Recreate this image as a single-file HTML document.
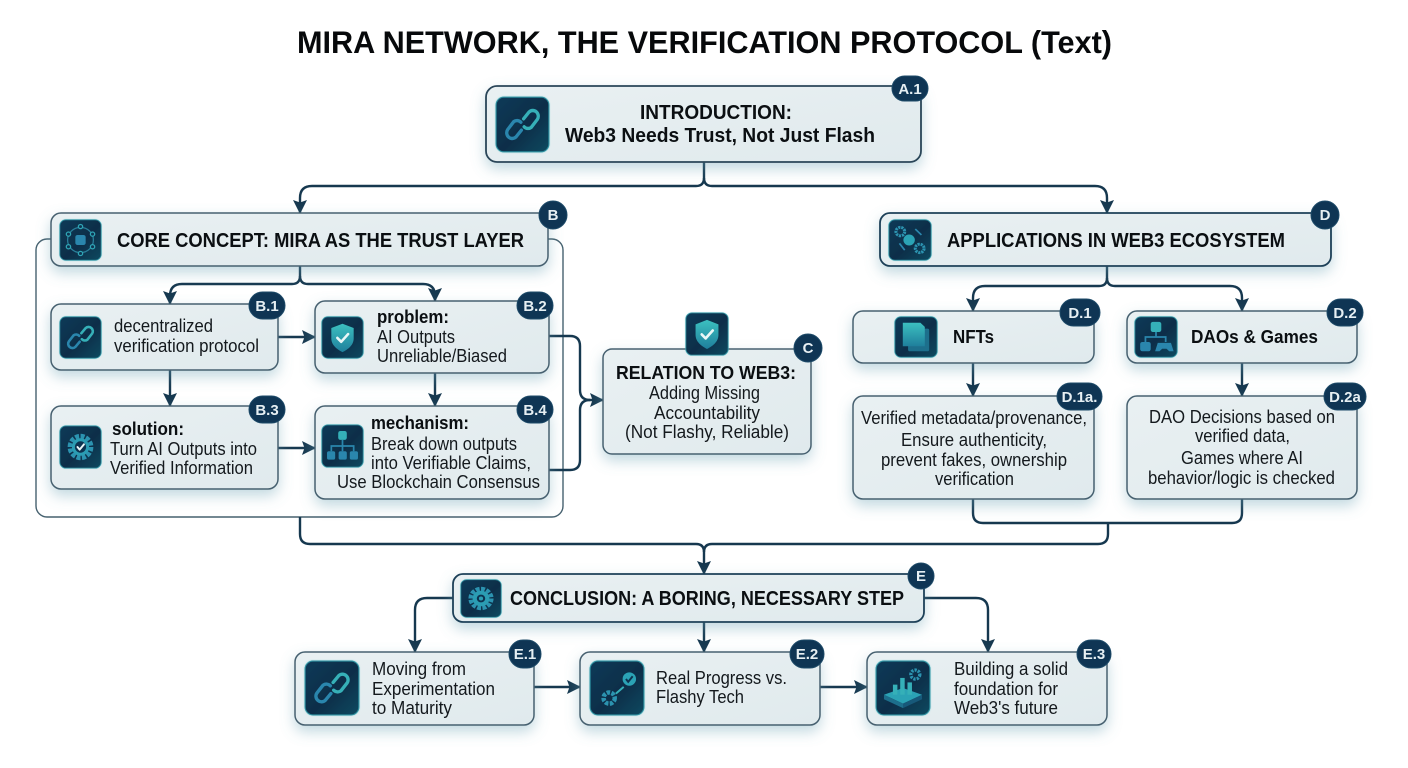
<!DOCTYPE html>
<html><head><meta charset="utf-8"><title>Mira Network</title>
<style>
html,body{margin:0;padding:0;background:#fff;width:1408px;height:768px;overflow:hidden}
svg{display:block;filter:blur(.35px)}
text{font-family:"Liberation Sans",Arial,sans-serif;fill:#14191d}
.t{font-size:18px}
.b{font-size:18px;font-weight:bold;fill:#0b0f12}
.h{font-size:20.5px;font-weight:bold;fill:#0b0f12}
.bd{font-size:15px;font-weight:bold;fill:#e6eff3;text-anchor:middle}
.box{fill:url(#bf);stroke:#46616f;stroke-width:1.5}
.ln{fill:none;stroke:#16384f;stroke-width:2.4}
.g{fill:none;stroke-width:6;stroke-linecap:round;stroke-linejoin:round}
</style></head><body>
<svg width="1408" height="768" viewBox="0 0 1408 768" xmlns="http://www.w3.org/2000/svg">
<defs>
<linearGradient id="bf" x1="0" y1="0" x2="1" y2="1"><stop offset="0" stop-color="#e9f0f2"/><stop offset="1" stop-color="#e0eaed"/></linearGradient>
<linearGradient id="ic" x1="0" y1="0" x2="1" y2="1"><stop offset="0" stop-color="#0f3a57"/><stop offset=".55" stop-color="#0c2e49"/><stop offset="1" stop-color="#0f4a60"/></linearGradient>
<linearGradient id="sh" x1="0" y1="0" x2="0" y2="1"><stop offset="0" stop-color="#3cc0c0"/><stop offset="1" stop-color="#1f7f9c"/></linearGradient>
<filter id="s" x="-10%" y="-25%" width="120%" height="170%"><feDropShadow dx="0" dy="6" stdDeviation="7" flood-color="#6aa3b4" flood-opacity=".42"/></filter>
<filter id="gl" x="-20%" y="-20%" width="140%" height="140%"><feDropShadow dx="0" dy="0" stdDeviation="1.5" flood-color="#56c6cf" flood-opacity=".75"/></filter>
<marker id="a" markerUnits="userSpaceOnUse" markerWidth="18" markerHeight="18" refX="13" refY="9" orient="auto"><path d="M0 2 L14 9 L0 16 L2.5 9 Z" fill="#16384f"/></marker>

<g id="bg"><rect x="2" y="2" width="96" height="96" rx="14" fill="url(#ic)" stroke="#2f8f9f" stroke-width="2" filter="url(#gl)"/></g>
<g id="chain"><use href="#bg"/><g class="g"><path d="M52 40 L62 28 A10 10 0 0 1 77 41 L66 55 A10 10 0 0 1 53 54" stroke="#36b0b8"/><path d="M48 60 L38 72 A10 10 0 0 1 23 59 L34 45 A10 10 0 0 1 47 46" stroke="#2a86ad"/></g></g>
<g id="shield"><use href="#bg"/><path d="M50 18 L76 28 V52 C76 68 62 78 50 84 C38 78 24 68 24 52 V28 Z" fill="url(#sh)"/><path d="M38 51 L47 60 L63 42" fill="none" stroke="#eaf7f7" stroke-width="6" stroke-linecap="round" stroke-linejoin="round"/></g>
<g id="gear"><use href="#bg"/><circle cx="50" cy="50" r="24" fill="none" stroke="#2c93b0" stroke-width="12" stroke-dasharray="9 3.5"/><circle cx="50" cy="50" r="20" fill="#2b9db3"/><circle cx="50" cy="50" r="13" fill="#0d3350"/><path d="M43 50 L48 56 L58 44" fill="none" stroke="#eaf7f7" stroke-width="4.5" stroke-linecap="round" stroke-linejoin="round"/></g>
<g id="gear2"><use href="#bg"/><circle cx="50" cy="50" r="24" fill="none" stroke="#2c93b0" stroke-width="12" stroke-dasharray="9 3.5"/><circle cx="50" cy="50" r="20" fill="#2b9db3"/><circle cx="50" cy="50" r="10" fill="#0d3350"/><circle cx="50" cy="50" r="5" fill="#2b9db3"/></g>
<g id="tree"><use href="#bg"/><rect x="40" y="16" width="20" height="20" rx="5" fill="#35b0b8"/><path d="M50 36 V50 M24 62 V50 H76 V62 M50 50 V62" fill="none" stroke="#2a86ad" stroke-width="4"/><rect x="14" y="62" width="19" height="19" rx="4" fill="#2a86ad"/><rect x="41" y="62" width="19" height="19" rx="4" fill="#2a86ad"/><rect x="67" y="62" width="19" height="19" rx="4" fill="#2a86ad"/></g>
<g id="net"><use href="#bg"/><circle cx="50" cy="50" r="30" fill="none" stroke="#2a7f9a" stroke-width="3"/><rect x="38" y="38" width="24" height="24" rx="5" fill="#2a86ad"/><g fill="#0d3350" stroke="#2fa5b5" stroke-width="3"><circle cx="50" cy="18" r="5"/><circle cx="78" cy="36" r="5"/><circle cx="78" cy="66" r="5"/><circle cx="50" cy="82" r="5"/><circle cx="22" cy="66" r="5"/><circle cx="22" cy="36" r="5"/></g></g>
<g id="apps"><use href="#bg"/><circle cx="28" cy="30" r="10" fill="none" stroke="#2c93b0" stroke-width="7" stroke-dasharray="5 2"/><circle cx="72" cy="70" r="10" fill="none" stroke="#2c93b0" stroke-width="7" stroke-dasharray="5 2"/><circle cx="48" cy="50" r="13" fill="#2ba3b5"/><path d="M62 24 L76 38 M26 58 L38 74" stroke="#2a86ad" stroke-width="4" fill="none"/></g>
<g id="nft"><use href="#bg"/><rect x="32" y="30" width="48" height="54" rx="4" fill="#1d6f8c"/><path d="M20 16 H60 L70 26 V72 H20 Z" fill="url(#sh)"/></g>
<g id="dao"><use href="#bg"/><rect x="38" y="14" width="24" height="24" rx="5" fill="#35b0b8"/><path d="M50 38 V50 M26 62 V50 H72 V62" fill="none" stroke="#2a86ad" stroke-width="4"/><rect x="14" y="62" width="24" height="22" rx="5" fill="#2a86ad"/><path d="M54 64 H84 L90 84 H80 L74 78 H64 L58 84 H48 Z" fill="#2a86ad"/></g>
<g id="prog"><use href="#bg"/><circle cx="36" cy="68" r="10" fill="none" stroke="#2c93b0" stroke-width="8" stroke-dasharray="6 2.5"/><path d="M48 60 L62 48" stroke="#35b0b8" stroke-width="3.5"/><circle cx="72" cy="34" r="12" fill="#2ba3b5"/><path d="M66 34 L70 39 L78 29" fill="none" stroke="#0d3350" stroke-width="3.5"/></g>
<g id="build"><use href="#bg"/><path d="M16 62 L50 50 L84 62 L50 78 Z" fill="#2ba3b5"/><path d="M16 62 V70 L50 86 V78 Z" fill="#1d6f8c"/><path d="M84 62 V70 L50 86 V78 Z" fill="#17597a"/><rect x="32" y="44" width="8" height="18" fill="#35b0b8"/><rect x="45" y="32" width="8" height="30" fill="#35b0b8"/><rect x="58" y="40" width="8" height="22" fill="#35b0b8"/><circle cx="72" cy="26" r="8" fill="none" stroke="#2c93b0" stroke-width="6" stroke-dasharray="4 2"/></g>
</defs>

<rect width="1408" height="768" fill="#fff"/>
<text x="297" y="53" font-size="31.5" font-weight="bold" textLength="815" lengthAdjust="spacingAndGlyphs" style="fill:#07090b">MIRA NETWORK, THE VERIFICATION PROTOCOL (Text)</text>

<!-- outer container -->
<rect x="36" y="239" width="527" height="278" rx="11" fill="#fff" stroke="#46616f" stroke-width="1.4"/>

<!-- connectors -->
<g class="ln">
<path d="M704 162 V178 Q704 186 696 186 H312 Q300 186 300 198 V213" marker-end="url(#a)"/>
<path d="M704 178 Q704 186 712 186 H1095 Q1107 186 1107 198 V213" marker-end="url(#a)"/>
<path d="M300 266 V276 Q300 284 292 284 H182 Q170 284 170 296 V304" marker-end="url(#a)"/>
<path d="M300 276 Q300 284 308 284 H423 Q435 284 435 296 V301" marker-end="url(#a)"/>
<path d="M170 370 V406" marker-end="url(#a)"/>
<path d="M435 373 V406" marker-end="url(#a)"/>
<path d="M278 337 H315" marker-end="url(#a)"/>
<path d="M278 448 H315" marker-end="url(#a)"/>
<path d="M549 336 H570 Q580 336 580 346 V390 Q580 400 590 400" />
<path d="M549 470 H570 Q580 470 580 460 V410 Q580 400 590 400 H603" marker-end="url(#a)"/>
<path d="M1107 266 V278 Q1107 286 1099 286 H985 Q973 286 973 298 V311" marker-end="url(#a)"/>
<path d="M1107 278 Q1107 286 1115 286 H1230 Q1242 286 1242 298 V311" marker-end="url(#a)"/>
<path d="M973 363 V396" marker-end="url(#a)"/>
<path d="M1242 363 V396" marker-end="url(#a)"/>
<path d="M973 499 V513 Q973 523 983 523 H1232 Q1242 523 1242 513 V499"/>
<path d="M1108 523 V534 Q1108 544 1098 544 H712 Q704 544 704 552 V574" marker-end="url(#a)"/>
<path d="M300 517 V534 Q300 544 310 544 H696 Q704 544 704 552"/>
<path d="M453 598 H427 Q415 598 415 610 V652" marker-end="url(#a)"/>
<path d="M704 622 V652" marker-end="url(#a)"/>
<path d="M924 598 H976 Q988 598 988 610 V652" marker-end="url(#a)"/>
<path d="M534 687 H580" marker-end="url(#a)"/>
<path d="M820 687 H867" marker-end="url(#a)"/>
</g>

<!-- boxes -->
<g filter="url(#s)">
<rect class="box" style="stroke:#2a4558;stroke-width:1.8" x="486" y="86" width="435" height="76" rx="11"/>
<rect class="box" x="51" y="213" width="497" height="53" rx="10"/>
<rect class="box" x="51" y="304" width="227" height="66" rx="10"/>
<rect class="box" x="315" y="301" width="234" height="72" rx="10"/>
<rect class="box" x="51" y="406" width="227" height="83" rx="10"/>
<rect class="box" x="315" y="406" width="234" height="93" rx="10"/>
<rect class="box" x="603" y="349" width="208" height="105" rx="9"/>
<rect class="box" style="stroke:#1f4058;stroke-width:1.8" x="880" y="213" width="451" height="53" rx="10"/>
<rect class="box" x="853" y="311" width="241" height="52" rx="10"/>
<rect class="box" x="1127" y="311" width="230" height="52" rx="10"/>
<rect class="box" x="853" y="396" width="241" height="103" rx="10"/>
<rect class="box" x="1127" y="396" width="230" height="103" rx="10"/>
<rect class="box" style="stroke:#1f4058;stroke-width:1.8" x="453" y="574" width="471" height="48" rx="10"/>
<rect class="box" x="295" y="652" width="239" height="73" rx="10"/>
<rect class="box" x="580" y="652" width="240" height="73" rx="10"/>
<rect class="box" x="867" y="652" width="240" height="73" rx="10"/>
</g>

<!-- icons -->
<use href="#chain" transform="translate(495,96) scale(.55,.57)"/>
<use href="#net" transform="translate(59,219) scale(.43,.42)"/>
<use href="#chain" transform="translate(59,316) scale(.43,.43)"/>
<use href="#shield" transform="translate(321,316) scale(.43,.43)"/>
<use href="#gear" transform="translate(59,425) scale(.43,.44)"/>
<use href="#tree" transform="translate(321,424) scale(.43,.44)"/>
<use href="#shield" transform="translate(685,312) scale(.44,.44)"/>
<use href="#apps" transform="translate(888,219) scale(.44,.42)"/>
<use href="#nft" transform="translate(894,316) scale(.44,.42)"/>
<use href="#dao" transform="translate(1134,316) scale(.44,.42)"/>
<use href="#gear2" transform="translate(460,579) scale(.42,.39)"/>
<use href="#chain" transform="translate(304,660) scale(.56,.56)"/>
<use href="#prog" transform="translate(589,660) scale(.56,.56)"/>
<use href="#build" transform="translate(875,660) scale(.56,.56)"/>

<!-- badges -->
<g fill="#0f3554" stroke="#1d4a68" stroke-width="1">
<rect x="892" y="76" width="36" height="25" rx="12.5"/>
<circle cx="553" cy="215" r="14"/>
<rect x="249" y="292" width="36" height="27" rx="13.5"/>
<rect x="517" y="292" width="36" height="27" rx="13.5"/>
<rect x="249" y="396" width="36" height="27" rx="13.5"/>
<rect x="517" y="396" width="36" height="27" rx="13.5"/>
<circle cx="808" cy="348" r="14"/>
<circle cx="1325" cy="215" r="14"/>
<rect x="1060" y="299" width="40" height="27" rx="13.5"/>
<rect x="1327" y="299" width="36" height="27" rx="13.5"/>
<rect x="1057" y="383" width="45" height="27" rx="13.5"/>
<rect x="1324" y="383" width="42" height="27" rx="13.5"/>
<circle cx="921" cy="576" r="13"/>
<rect x="509" y="640" width="32" height="28" rx="14"/>
<rect x="790" y="640" width="34" height="28" rx="14"/>
<rect x="1077" y="640" width="34" height="28" rx="14"/>
</g>
<text class="bd" x="910" y="94">A.1</text>
<text class="bd" x="553" y="220">B</text>
<text class="bd" x="267" y="311">B.1</text>
<text class="bd" x="535" y="311">B.2</text>
<text class="bd" x="267" y="415">B.3</text>
<text class="bd" x="535" y="415">B.4</text>
<text class="bd" x="808" y="353">C</text>
<text class="bd" x="1325" y="220">D</text>
<text class="bd" x="1080" y="318">D.1</text>
<text class="bd" x="1345" y="318">D.2</text>
<text class="bd" x="1079.5" y="402">D.1a.</text>
<text class="bd" x="1345" y="402">D.2a</text>
<text class="bd" x="921" y="581">E</text>
<text class="bd" x="525" y="659">E.1</text>
<text class="bd" x="807" y="659">E.2</text>
<text class="bd" x="1094" y="659">E.3</text>

<!-- labels -->
<text class="h" x="640" y="119" textLength="152" lengthAdjust="spacingAndGlyphs">INTRODUCTION:</text>
<text class="h" x="565" y="142" textLength="310" lengthAdjust="spacingAndGlyphs">Web3 Needs Trust, Not Just Flash</text>
<text class="h" x="117" y="247" textLength="407" lengthAdjust="spacingAndGlyphs">CORE CONCEPT: MIRA AS THE TRUST LAYER</text>
<text class="t" x="114" y="332" textLength="99" lengthAdjust="spacingAndGlyphs">decentralized</text>
<text class="t" x="114" y="352" textLength="145" lengthAdjust="spacingAndGlyphs">verification protocol</text>
<text class="b" x="377" y="323" textLength="72" lengthAdjust="spacingAndGlyphs">problem:</text>
<text class="t" x="377" y="343" textLength="78" lengthAdjust="spacingAndGlyphs">AI Outputs</text>
<text class="t" x="377" y="362" textLength="130" lengthAdjust="spacingAndGlyphs">Unreliable/Biased</text>
<text class="b" x="112" y="435" textLength="72" lengthAdjust="spacingAndGlyphs">solution:</text>
<text class="t" x="110" y="455" textLength="147" lengthAdjust="spacingAndGlyphs">Turn AI Outputs into</text>
<text class="t" x="110" y="474" textLength="143" lengthAdjust="spacingAndGlyphs">Verified Information</text>
<text class="b" x="371" y="429" textLength="98" lengthAdjust="spacingAndGlyphs">mechanism:</text>
<text class="t" x="371" y="450" textLength="146" lengthAdjust="spacingAndGlyphs">Break down outputs</text>
<text class="t" x="371" y="469" textLength="160" lengthAdjust="spacingAndGlyphs">into Verifiable Claims,</text>
<text class="t" x="337" y="488" textLength="203" lengthAdjust="spacingAndGlyphs">Use Blockchain Consensus</text>
<text class="b" x="616" y="379" textLength="180" lengthAdjust="spacingAndGlyphs">RELATION TO WEB3:</text>
<text class="t" x="649" y="399" textLength="111" lengthAdjust="spacingAndGlyphs">Adding Missing</text>
<text class="t" x="654" y="419" textLength="106" lengthAdjust="spacingAndGlyphs">Accountability</text>
<text class="t" x="625" y="438" textLength="164" lengthAdjust="spacingAndGlyphs">(Not Flashy, Reliable)</text>
<text class="h" x="947" y="247" textLength="338" lengthAdjust="spacingAndGlyphs">APPLICATIONS IN WEB3 ECOSYSTEM</text>
<text class="b" x="953" y="343" textLength="41" lengthAdjust="spacingAndGlyphs">NFTs</text>
<text class="b" x="1191" y="343" textLength="127" lengthAdjust="spacingAndGlyphs">DAOs &amp; Games</text>
<text class="t" x="861" y="424" textLength="226" lengthAdjust="spacingAndGlyphs">Verified metadata/provenance,</text>
<text class="t" x="901" y="446" textLength="146" lengthAdjust="spacingAndGlyphs">Ensure authenticity,</text>
<text class="t" x="881" y="466" textLength="186" lengthAdjust="spacingAndGlyphs">prevent fakes, ownership</text>
<text class="t" x="935" y="485" textLength="79" lengthAdjust="spacingAndGlyphs">verification</text>
<text class="t" x="1149" y="423" textLength="186" lengthAdjust="spacingAndGlyphs">DAO Decisions based on</text>
<text class="t" x="1195" y="442" textLength="95" lengthAdjust="spacingAndGlyphs">verified data,</text>
<text class="t" x="1181" y="464" textLength="122" lengthAdjust="spacingAndGlyphs">Games where AI</text>
<text class="t" x="1148" y="484" textLength="187" lengthAdjust="spacingAndGlyphs">behavior/logic is checked</text>
<text class="h" x="510" y="605" textLength="394" lengthAdjust="spacingAndGlyphs">CONCLUSION: A BORING, NECESSARY STEP</text>
<text class="t" x="372" y="675" textLength="94" lengthAdjust="spacingAndGlyphs">Moving from</text>
<text class="t" x="372" y="695" textLength="123" lengthAdjust="spacingAndGlyphs">Experimentation</text>
<text class="t" x="372" y="714" textLength="80" lengthAdjust="spacingAndGlyphs">to Maturity</text>
<text class="t" x="656" y="684" textLength="131" lengthAdjust="spacingAndGlyphs">Real Progress vs.</text>
<text class="t" x="656" y="703" textLength="88" lengthAdjust="spacingAndGlyphs">Flashy Tech</text>
<text class="t" x="954" y="675" textLength="114" lengthAdjust="spacingAndGlyphs">Building a solid</text>
<text class="t" x="954" y="695" textLength="104" lengthAdjust="spacingAndGlyphs">foundation for</text>
<text class="t" x="954" y="714" textLength="104" lengthAdjust="spacingAndGlyphs">Web3's future</text>
</svg>
</body></html>
